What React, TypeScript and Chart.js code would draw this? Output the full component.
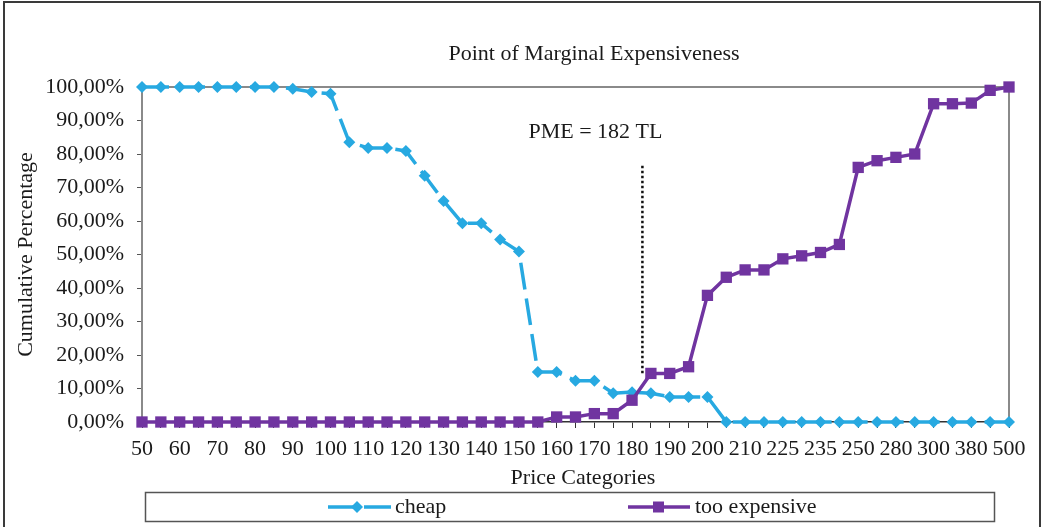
import React, { useEffect, useRef } from 'react';
import { Chart, registerables } from 'chart.js';

Chart.register(...registerables);

const priceCategories: string[] = [
  '50', '55', '60', '65', '70', '75', '80', '85', '90', '95',
  '100', '105', '110', '115', '120', '125', '130', '135', '140', '145',
  '150', '155', '160', '165', '170', '175', '180', '185', '190', '195',
  '200', '205', '210', '220', '225', '230', '235', '240', '250', '270',
  '280', '290', '300', '350', '380', '400', '500',
];

const cheapValues: number[] = [
  100, 100, 100, 100, 100, 100, 100, 100, 99.5, 98.5,
  98.0, 83.5, 81.8, 81.8, 80.9, 73.5, 66.0, 59.3, 59.3, 54.5,
  50.9, 14.9, 14.9, 12.3, 12.3, 8.6, 8.9, 8.6, 7.5, 7.5,
  7.5, 0, 0, 0, 0, 0, 0, 0, 0, 0,
  0, 0, 0, 0, 0, 0, 0,
];

const tooExpensiveValues: number[] = [
  0, 0, 0, 0, 0, 0, 0, 0, 0, 0,
  0, 0, 0, 0, 0, 0, 0, 0, 0, 0,
  0, 0, 1.5, 1.5, 2.5, 2.5, 6.5, 14.5, 14.5, 16.5,
  37.8, 43.2, 45.4, 45.4, 48.7, 49.6, 50.6, 53.0, 76.0, 78.0,
  79.0, 80.0, 95.0, 95.0, 95.2, 99.0, 100,
];

const seriesNames: string[] = ['cheap', 'too expensive'];
const chartTitle = 'Point of Marginal Expensiveness';
const xAxisTitle = 'Price Categories';
const yAxisTitle = 'Cumulative Percentage';
const pmeText = 'PME = 182 TL';
// PME marker position, in category-index units and percent
const pmeIndex = 26.55;
const pmeLineTop = 76.5;
const pmeLineBottom = 14;
const pmeTextLevel = 86.4;

const FONT = "'Liberation Serif', 'Times New Roman', serif";
const CHEAP_COLOR = '#27A9E1';
const EXP_COLOR = '#7034A0';
const TEXT_COLOR = '#1a1a1a';

const decorPlugin = {
  id: 'decor',
  beforeDatasetsDraw(chart: any) {
    const ctx = chart.ctx;
    const x = chart.scales.x;
    const y = chart.scales.y;
    const area = chart.chartArea;
    ctx.save();
    ctx.strokeStyle = '#8a8a8a';
    ctx.lineWidth = 2;
    ctx.beginPath();
    ctx.moveTo(area.left, area.top);
    ctx.lineTo(area.right, area.top);
    ctx.lineTo(area.right, area.bottom);
    ctx.stroke();

    const px = x.getPixelForValue(pmeIndex);
    ctx.strokeStyle = '#111';
    ctx.lineWidth = 2.5;
    ctx.setLineDash([2.5, 2.5]);
    ctx.beginPath();
    ctx.moveTo(px, y.getPixelForValue(pmeLineTop));
    ctx.lineTo(px, y.getPixelForValue(pmeLineBottom));
    ctx.stroke();
    ctx.restore();
  },
  afterDraw(chart: any) {
    const ctx = chart.ctx;
    const area = chart.chartArea;
    const x = chart.scales.x;
    const y = chart.scales.y;
    ctx.save();
    ctx.strokeStyle = '#3a3a3a';
    ctx.lineWidth = 2;
    ctx.strokeRect(4, 2, 1036, 600);

    ctx.fillStyle = TEXT_COLOR;
    ctx.font = `22px ${FONT}`;
    ctx.textBaseline = 'middle';
    ctx.textAlign = 'center';
    ctx.fillText(chartTitle, 594, 54);
    ctx.fillText(xAxisTitle, 583, 478);
    ctx.save();
    ctx.translate(26, (area.top + area.bottom) / 2);
    ctx.rotate(-Math.PI / 2);
    ctx.fillText(yAxisTitle, 0, 0);
    ctx.restore();
    const px = x.getPixelForValue(pmeIndex);
    ctx.textAlign = 'right';
    ctx.fillText(pmeText, px + 20, y.getPixelForValue(pmeTextLevel));

    // legend box
    ctx.strokeStyle = '#555';
    ctx.lineWidth = 1.5;
    ctx.strokeRect(145.5, 492.5, 849, 29);
    const ly = 507;
    ctx.strokeStyle = CHEAP_COLOR;
    ctx.lineWidth = 3.5;
    ctx.setLineDash([27, 9]);
    ctx.beginPath();
    ctx.moveTo(328, ly);
    ctx.lineTo(391, ly);
    ctx.stroke();
    ctx.setLineDash([]);
    ctx.fillStyle = CHEAP_COLOR;
    ctx.beginPath();
    ctx.moveTo(357, ly - 6);
    ctx.lineTo(363, ly);
    ctx.lineTo(357, ly + 6);
    ctx.lineTo(351, ly);
    ctx.closePath();
    ctx.fill();
    ctx.strokeStyle = EXP_COLOR;
    ctx.beginPath();
    ctx.moveTo(628, ly);
    ctx.lineTo(690, ly);
    ctx.stroke();
    ctx.fillStyle = EXP_COLOR;
    ctx.fillRect(653, ly - 5.5, 11, 11);

    ctx.fillStyle = TEXT_COLOR;
    ctx.textAlign = 'left';
    ctx.fillText(seriesNames[0], 395, ly);
    ctx.fillText(seriesNames[1], 695, ly);
    ctx.restore();
  },
};

export default function App() {
  const canvasRef = useRef<HTMLCanvasElement | null>(null);

  useEffect(() => {
    if (!canvasRef.current) return;
    const chart = new Chart(canvasRef.current, {
      type: 'line',
      data: {
        labels: priceCategories,
        datasets: [
          {
            label: seriesNames[0],
            data: cheapValues,
            order: 1,
            borderColor: CHEAP_COLOR,
            backgroundColor: CHEAP_COLOR,
            borderWidth: 3.5,
            borderDash: [27, 9],
            pointStyle: 'rectRot',
            pointRadius: 6,
            pointBorderWidth: 0,
            pointBackgroundColor: CHEAP_COLOR,
            tension: 0,
            fill: false,
            clip: false,
          },
          {
            label: seriesNames[1],
            data: tooExpensiveValues,
            order: 0,
            borderColor: EXP_COLOR,
            backgroundColor: EXP_COLOR,
            borderWidth: 3.5,
            pointStyle: 'rect',
            pointRadius: 8,
            pointBorderWidth: 0,
            pointBackgroundColor: EXP_COLOR,
            tension: 0,
            fill: false,
            clip: false,
          },
        ],
      },
      options: {
        animation: false,
        responsive: false,
        devicePixelRatio: 1,
        layout: { padding: { top: 87, right: 33, left: 0, bottom: 0 } },
        plugins: {
          legend: { display: false },
          title: { display: false },
          tooltip: { enabled: false },
        },
        scales: {
          x: {
            type: 'category',
            offset: false,
            grid: {
              display: true,
              drawOnChartArea: false,
              drawTicks: true,
              tickLength: 6,
              color: '#333',
              lineWidth: 1,
            },
            border: { display: true, color: '#333', width: 1.5 },
            ticks: {
              autoSkip: false,
              maxRotation: 0,
              minRotation: 0,
              padding: 8,
              color: TEXT_COLOR,
              font: { family: FONT, size: 22 },
              callback: (_v: any, i: number) => (i % 2 === 0 ? priceCategories[i] : ''),
            },
            afterFit: (s: any) => {
              s.height = 105;
            },
          },
          y: {
            min: 0,
            max: 100,
            grid: {
              drawOnChartArea: false,
              drawTicks: true,
              tickLength: 5,
              color: '#555',
            },
            border: { display: true, color: '#8a8a8a', width: 2 },
            ticks: {
              stepSize: 10,
              padding: 13,
              color: TEXT_COLOR,
              font: { family: FONT, size: 22 },
              callback: (v: any) => `${Number(v).toFixed(2).replace('.', ',')}%`,
            },
            afterFit: (s: any) => {
              s.width = 142;
            },
          },
        },
      },
      plugins: [decorPlugin],
    } as any);
    return () => chart.destroy();
  }, []);

  return (
    <div style={{ position: 'absolute', left: 0, top: 0, width: 1042, height: 527, background: '#fff' }}>
      <canvas ref={canvasRef} width={1042} height={527} style={{ display: 'block' }} />
    </div>
  );
}
